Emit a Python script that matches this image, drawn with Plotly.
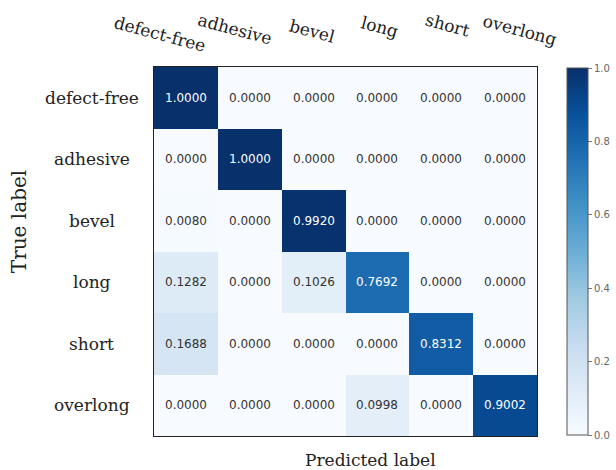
import plotly.graph_objects as go

# class names (rows = true label, columns = predicted label)
classes = ["defect-free", "adhesive", "bevel", "long", "short", "overlong"]

# normalised confusion matrix, one list per true class
row_defect_free = [1.0000, 0.0000, 0.0000, 0.0000, 0.0000, 0.0000]
row_adhesive    = [0.0000, 1.0000, 0.0000, 0.0000, 0.0000, 0.0000]
row_bevel       = [0.0080, 0.0000, 0.9920, 0.0000, 0.0000, 0.0000]
row_long        = [0.1282, 0.0000, 0.1026, 0.7692, 0.0000, 0.0000]
row_short       = [0.1688, 0.0000, 0.0000, 0.0000, 0.8312, 0.0000]
row_overlong    = [0.0000, 0.0000, 0.0000, 0.0998, 0.0000, 0.9002]

matrix = [row_defect_free, row_adhesive, row_bevel, row_long, row_short, row_overlong]

colorbar_ticks = [0.0, 0.2, 0.4, 0.6, 0.8, 1.0]

# matplotlib-style "Blues" ramp
blues = [
    [0.000, "#f7fbff"], [0.125, "#deebf7"], [0.250, "#c6dbef"],
    [0.375, "#9ecae1"], [0.500, "#6baed6"], [0.625, "#4292c6"],
    [0.750, "#2171b5"], [0.875, "#08519c"], [1.000, "#08306b"],
]

SERIF = "DejaVu Serif"
SANS = "DejaVu Sans"

idx = list(range(len(classes)))

fig = go.Figure()
fig.add_trace(go.Heatmap(
    z=matrix,
    x=idx,
    y=idx,
    zmin=0, zmax=1,
    colorscale=blues,
    showscale=True,
    hoverinfo="skip",
    colorbar=dict(
        x=567 / 616, xanchor="left", xref="container", xpad=0, ypad=0,
        y=0.5, yanchor="middle", yref="paper", len=0.995, lenmode="fraction",
        thickness=21,
        outlinewidth=1, outlinecolor="#555",
        tickvals=colorbar_ticks,
        ticktext=[f"{v:.1f}" for v in colorbar_ticks],
        ticks="outside", ticklen=4, tickcolor="#777",
        tickfont=dict(family=SANS, size=10, color="#666"),
    ),
))

# cell value labels
for i, row in enumerate(matrix):
    for j, v in enumerate(row):
        fig.add_annotation(
            x=j, y=i, text=f"{v:.4f}",
            showarrow=False,
            font=dict(family=SANS, size=12, color="white" if v > 0.5 else "#333"),
        )

# tilted column names above the matrix (horizontal nudge per label)
label_nudge = [-26, -15, -2, 3, 6, 15]
label_lift = [33, 38, 36, 40, 42, 37]
for j, (name, dx, dy) in enumerate(zip(classes, label_nudge, label_lift)):
    fig.add_annotation(
        x=j, xref="x", y=1, yref="paper", yanchor="middle",
        yshift=dy, xshift=dx, text=name, textangle=15, showarrow=False,
        font=dict(family=SERIF, size=17, color="#222"),
    )

# row names, centred in a column left of the matrix
for i, name in enumerate(classes):
    fig.add_annotation(
        x=-0.162, xref="paper", xanchor="center", y=i, yref="y",
        text=name, showarrow=False,
        font=dict(family=SERIF, size=17, color="#222"),
    )

fig.add_annotation(
    x=-0.352, xref="paper", xanchor="center", y=0.58, yref="paper",
    yanchor="middle", text="True label",
    textangle=-90, showarrow=False,
    font=dict(family=SERIF, size=20, color="#222"),
)
fig.add_annotation(
    x=0.565, xref="paper", y=0, yref="paper", yanchor="middle", yshift=-24,
    text="Predicted label", showarrow=False,
    font=dict(family=SERIF, size=17, color="#222"),
)

axis_common = dict(
    showticklabels=False, ticks="", showgrid=False, zeroline=False,
    showline=True, linecolor="#222", linewidth=1, mirror=True,
)
fig.update_xaxes(range=[-0.5, len(classes) - 0.5], **axis_common)
fig.update_yaxes(range=[len(classes) - 0.5, -0.5], **axis_common)

fig.update_layout(
    width=616, height=470,
    margin=dict(l=154, r=79, t=67, b=34, autoexpand=False),
    paper_bgcolor="white", plot_bgcolor="white",
)

fig.write_html("out.html")
